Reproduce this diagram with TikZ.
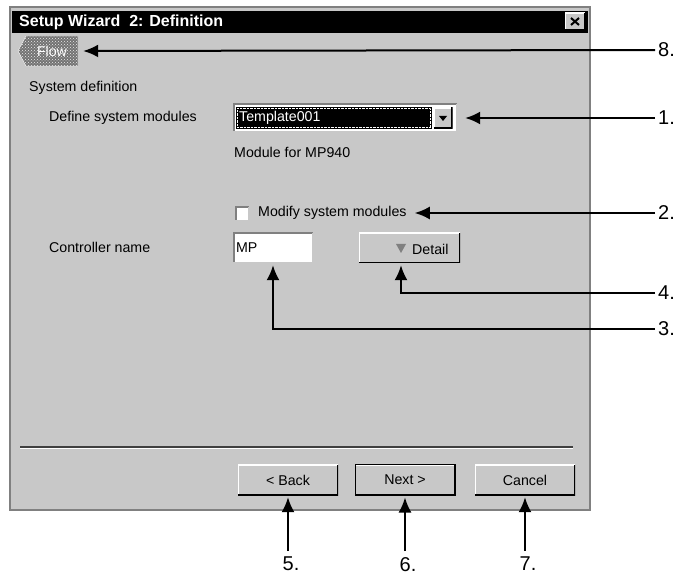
\documentclass[tikz,border=0pt]{standalone}
\usepackage{fontspec}
\setmainfont{Liberation Sans}
\usetikzlibrary{calc}
\usetikzlibrary{arrows.meta}
\usetikzlibrary{patterns}
\usetikzlibrary{shapes.symbols}
\definecolor{wingray}{RGB}{200,200,200}
\definecolor{windark}{RGB}{128,128,128}
\tikzset{>={Latex[width=13pt,length=15pt]}}
\tikzset{
  dlgtext/.style={anchor=west,inner sep=0pt,font=\fontsize{14.2}{17}\selectfont},
  callnum/.style={inner sep=0pt,font=\fontsize{20}{24}\selectfont},
  callout/.style={->,line width=2pt},
  raised/.style={fill=wingray,inner sep=0pt,font=\fontsize{14.2}{17}\selectfont,
    path picture={
      \draw[white,line width=2.5pt] (path picture bounding box.south west) -- (path picture bounding box.north west) -- (path picture bounding box.north east);
      \draw[black,line width=2.5pt] (path picture bounding box.north east) -- (path picture bounding box.south east) -- (path picture bounding box.south west);}},
  sunken/.style={fill=white,inner sep=0pt,font=\fontsize{14.2}{17}\selectfont,
    path picture={
      \draw[windark,line width=3pt] (path picture bounding box.south west) -- (path picture bounding box.north west) -- (path picture bounding box.north east);
      \draw[wingray,line width=2pt] (path picture bounding box.north east) -- (path picture bounding box.south east) -- (path picture bounding box.south west);}}
}

\begin{document}
\begin{tikzpicture}[x=1pt,y=-1pt]
  \useasboundingbox (0,0) rectangle (678,577);
  \fill[white] (0,0) rectangle (678,577);
  \fill[wingray] (10,7) rectangle (590,510);
  \draw[windark,line width=2pt] (10,7) rectangle (590,510);
  \fill[black] (12,11) rectangle (588,33);
  \node[anchor=west,inner sep=0pt,text=white,font=\fontsize{16}{19}\selectfont\bfseries] (title) at (19,22) {Setup Wizard~ 2: Definition};
  \node[raised,minimum width=20pt,minimum height=17pt] (closebtn) at (575,21.5) {};
  \draw[line width=2pt] ($(closebtn.center)+(-4,-3.5)$) -- ($(closebtn.center)+(4,3.5)$);
  \draw[line width=2pt] ($(closebtn.center)+(-4,3.5)$) -- ($(closebtn.center)+(4,-3.5)$);

  \node[signal,signal to=west,signal pointer angle=124,minimum width=60pt,minimum height=30pt,inner sep=0pt,
    fill=black!55,postaction={pattern=crosshatch dots,pattern color=white!85!gray},draw=white,
    text=white,font=\fontsize{14.2}{17}\selectfont] (flow) at (52,51) {Flow};

  \node[dlgtext] (sysdef) at (29,88) {System definition};
  \node[dlgtext] (defmod) at (49,118) {Define system modules};
  \node[sunken,minimum width=224pt,minimum height=28pt] (combo) at (345,118) {};
  \fill[black] (236,107) rectangle (432,129);
  \draw[white,densely dotted] (237.5,108.5) rectangle (430.5,127.5);
  \node[dlgtext,text=white] (tmpl) at (239,118) {Template001};
  \node[raised,minimum width=19pt,minimum height=21pt] (combobtn) at (443,118) {};
  \fill[black] (439,116) -- (447,116) -- (443,121) -- cycle;
  \node[dlgtext] (modfor) at (234,152) {Module for MP940};

  \node[sunken,minimum size=14pt] (chk) at (242,214) {};
  \node[dlgtext] (modify) at (258,213) {Modify system modules};

  \node[dlgtext] (ctrl) at (49,247) {Controller name};
  \node[sunken,minimum width=80pt,minimum height=30pt,text width=74pt,align=left] (mp) at (273,248) {MP};
  \node[raised,minimum width=101pt,minimum height=30pt] (detail) at (409.5,248) {};
  \fill[gray] (396,244) -- (406,244) -- (401,253) -- cycle;
  \coordinate (dtri) at (401,253);
  \node[dlgtext] (detailtxt) at (412,249) {Detail};

  \draw[black!75,line width=1.5pt] (20,447) -- (573,447);
  \draw[white,line width=1pt] (20,448.5) -- (573,448.5);

  \node[raised,minimum width=100pt,minimum height=30pt] (back) at (288,480) {< Back};
  \node[raised,minimum width=100pt,minimum height=30pt,draw=black,line width=1pt] (next) at (405,480) {Next >};
  \node[raised,minimum width=100pt,minimum height=30pt] (cancel) at (525,480) {Cancel};

  \node[callnum,anchor=west] (l8) at (658,50) {8.};
  \node[callnum,anchor=west] (l1) at (658,118) {1.};
  \node[callnum,anchor=west] (l2) at (658,213) {2.};
  \node[callnum,anchor=west] (l4) at (658,293) {4.};
  \node[callnum,anchor=west] (l3) at (658,329) {3.};
  \node[callnum,anchor=north west] (l5) at (282.5,557) {5.};
  \node[callnum,anchor=north west] (l6) at (399.5,557) {6.};
  \node[callnum,anchor=north west] (l7) at (519.5,557) {7.};

  \draw[callout,shorten <=3pt,shorten >=5pt] (l8.west) -- (flow.east);
  \draw[callout,shorten <=3pt,shorten >=8pt] (l1.west) -- (combo.east);
  \draw[callout,shorten <=3pt,shorten >=8pt] (l2.west) -- (modify.east);
  \draw[callout,shorten <=3pt,shorten >=2pt] (l4.west) -| (dtri |- detail.south);
  \draw[callout,shorten <=3pt,shorten >=2pt] (l3.west) -| (mp.south);
  \draw[callout,shorten <=6pt,shorten >=2pt] (back.south |- l5.north) -- (back.south);
  \draw[callout,shorten <=6pt,shorten >=2pt] (next.south |- l6.north) -- (next.south);
  \draw[callout,shorten <=6pt,shorten >=2pt] (cancel.south |- l7.north) -- (cancel.south);
\end{tikzpicture}
\end{document}
